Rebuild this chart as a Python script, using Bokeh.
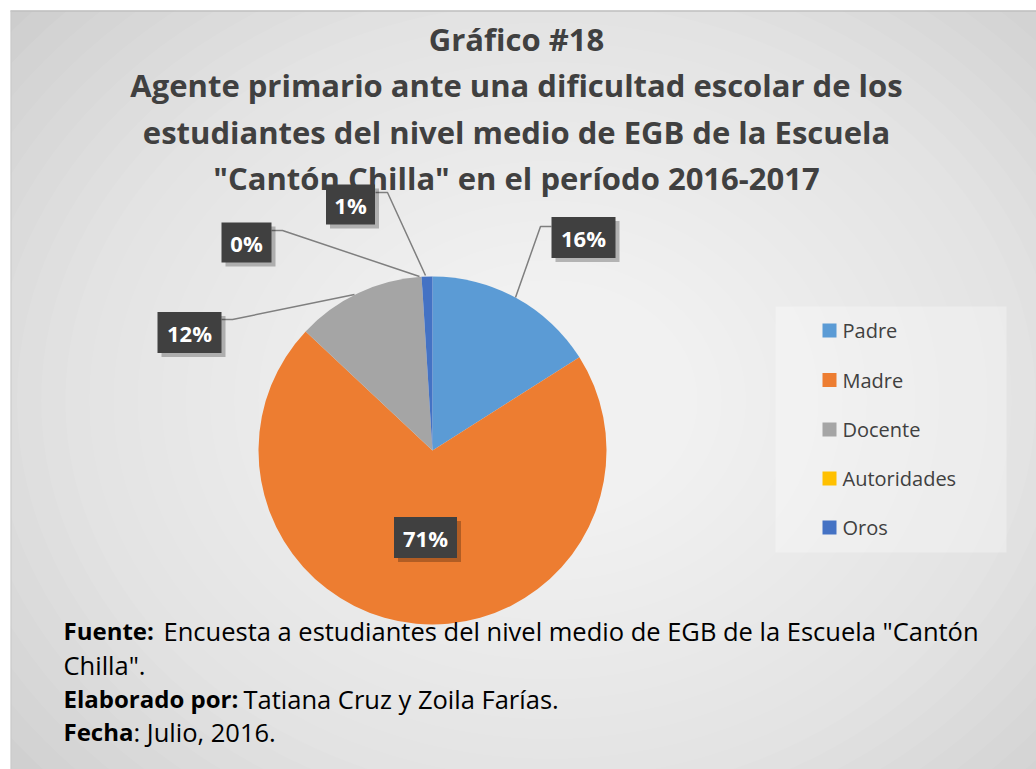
import numpy as np
from bokeh.plotting import figure
from bokeh.models import Range1d
from bokeh.core.properties import value
from bokeh.embed import file_html
from bokeh.resources import INLINE

# ---------------- data ----------------
categories = ["Padre", "Madre", "Docente", "Autoridades", "Oros"]
percent = [16, 71, 12, 0, 1]
colors = ["#5B9BD5", "#ED7D31", "#A5A5A5", "#FFC000", "#4472C4"]

title_lines = [
    "Gráfico #18",
    "Agente primario ante una dificultad escolar de los",
    "estudiantes del nivel medio de EGB de la Escuela",
    "\"Cantón Chilla\" en el período 2016-2017",
]
footer_bold = ["Fuente:", "", "Elaborado por:", "Fecha"]
footer_regular = [
    "Encuesta a estudiantes del nivel medio de EGB de la Escuela \"Cantón",
    "Chilla\".",
    "Tatiana Cruz y Zoila Farías.",
    ": Julio, 2016.",
]

# ---------------- layout ----------------
W, H = 1036, 769
def fx(X):
    return X
def fy(Y):
    return H - Y

FONT = "Open Sans"
p = figure(width=W, height=H, x_range=Range1d(0, W), y_range=Range1d(0, H),
           output_backend="svg", toolbar_location=None, min_border=0,
           x_axis_location=None, y_axis_location=None)
p.grid.visible = False
p.outline_line_color = None
p.background_fill_color = "white"
p.border_fill_color = "white"

# background with radial gradient approximation
p.quad(left=[fx(10)], right=[fx(1036)], bottom=[fy(769)], top=[fy(10)],
       fill_color="#c4c4c4", line_color=None)
n = 30
ws = np.linspace(1550, 150, n)
hs = ws * 0.82
p.ellipse(x=[fx(550)] * n, y=[fy(400)] * n, width=ws, height=hs,
          fill_color="white", fill_alpha=0.065, line_color=None)
# re-paint white margin over ellipses
p.quad(left=[fx(0)], right=[fx(10)], bottom=[fy(769)], top=[fy(0)], fill_color="white", line_color=None)
p.quad(left=[fx(0)], right=[fx(1036)], bottom=[fy(10)], top=[fy(0)], fill_color="white", line_color=None)
p.segment(x0=[fx(10)], y0=[fy(10.5)], x1=[fx(1036)], y1=[fy(10.5)], line_color="#bfbfbf", line_width=1.5)
p.segment(x0=[fx(10.5)], y0=[fy(10)], x1=[fx(10.5)], y1=[fy(769)], line_color="#c8c8c8", line_width=1)

# title
tys = [38, 84, 131, 177]
p.text(x=[fx(516)] * 4, y=[fy(v) for v in tys], text=title_lines,
       text_font=value(FONT), text_font_style="bold", text_font_size="31px",
       text_color="#404040", text_align="center", text_baseline="alphabetic")

# pie
cx, cy, R = fx(432), fy(450), 174
frac = np.array(percent, dtype=float) / sum(percent)
cum = np.concatenate([[0], np.cumsum(frac)])
starts = np.pi / 2 - 2 * np.pi * cum[:-1]
ends = np.pi / 2 - 2 * np.pi * cum[1:]
mask = [f > 0 for f in frac]
p.wedge(x=[cx] * sum(mask), y=[cy] * sum(mask), radius=R, radius_units="screen",
        start_angle=starts[mask], end_angle=ends[mask], direction="clock",
        fill_color=[c for c, m in zip(colors, mask) if m], line_color=None)

# leader lines (label -> slice)
leaders_x = [[551, 540, 515], [221, 232, 354], [271, 282, 419], [375, 387, 425]]
leaders_y = [[226, 226, 297], [319, 319, 294], [230, 230, 276], [192, 192, 275]]
p.multi_line(xs=[[fx(v) for v in a] for a in leaders_x],
             ys=[[fy(v) for v in a] for a in leaders_y],
             line_color="#7f7f7f", line_width=1.5)

# data label boxes: order Padre, Madre, Docente, Autoridades, Oros
lab_cx = [583, 425, 189, 246, 350]
lab_cy = [237, 537, 332, 242, 204]
lab_w = [64, 63, 64, 50, 49]
lab_h = [41, 41, 41, 40, 40]
labels = [f"{v}%" for v in percent]
p.rect(x=[fx(v) + 4 for v in lab_cx], y=[fy(v) - 4 for v in lab_cy], width=lab_w, height=lab_h,
       fill_color="black", fill_alpha=0.25, line_color=None)
p.rect(x=[fx(v) for v in lab_cx], y=[fy(v) for v in lab_cy], width=lab_w, height=lab_h,
       fill_color="#404040", line_color=None)
p.text(x=[fx(v) for v in lab_cx], y=[fy(v) for v in lab_cy], text=labels,
       text_font=value(FONT), text_font_style="bold", text_font_size="22px",
       text_color="white", text_align="center", text_baseline="middle")

# legend
p.quad(left=[fx(775)], right=[fx(1006)], bottom=[fy(552)], top=[fy(306)],
       fill_color="white", fill_alpha=0.3, line_color=None)
leg_y = [330, 379.5, 429, 478, 527]
p.scatter(x=[fx(829)] * 5, y=[fy(v) for v in leg_y], marker="square", size=14,
          fill_color=colors, line_color=None)
p.text(x=[fx(842)] * 5, y=[fy(v) for v in leg_y], text=categories,
       text_font=value(FONT), text_font_size="20px", text_color="#404040",
       text_align="left", text_baseline="middle")

# footer
fys = [630, 664, 698, 731]
p.text(x=[fx(63)] * 4, y=[fy(v) for v in fys], text=footer_bold,
       text_font=value(FONT), text_font_style="bold", text_font_size="24px",
       text_color="black", text_align="left", text_baseline="alphabetic")
reg_x = [163, 63, 243, 133]
p.text(x=[fx(v) for v in reg_x], y=[fy(v) for v in fys], text=footer_regular,
       text_font=value(FONT), text_font_size="25.5px",
       text_color="black", text_align="left", text_baseline="alphabetic")

open("out.html", "w").write(file_html(p, INLINE))
